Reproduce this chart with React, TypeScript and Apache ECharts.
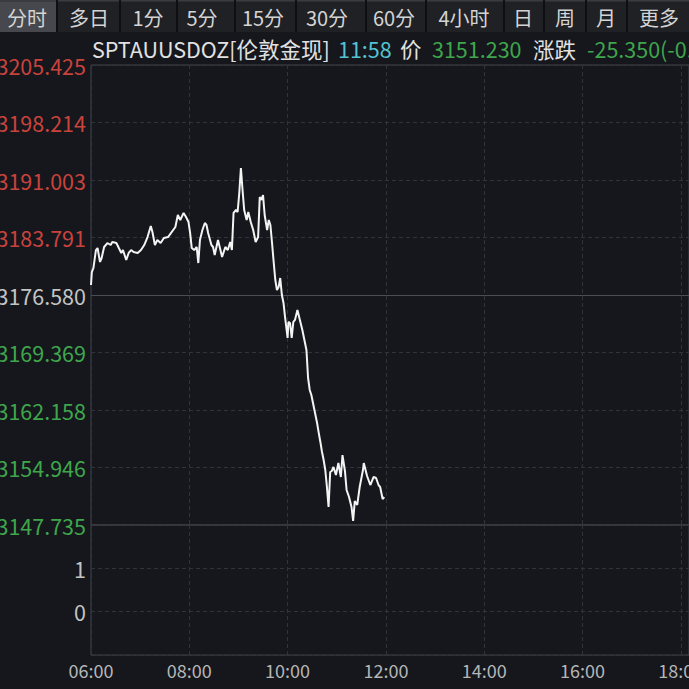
import React, { useEffect, useRef } from "react";
import * as echarts from "echarts";

// ---------- data ----------
const TABS = ["分时", "多日", "1分", "5分", "15分", "30分", "60分", "4小时", "日", "周", "月", "更多"];
const SYMBOL = "SPTAUUSDOZ[伦敦金现]";
const LAST_TIME = "11:58";
const PRICE_LABEL = "价";
const LAST_PRICE = "3151.230";
const CHANGE_LABEL = "涨跌";
const CHANGE = "-25.350(-0.80%)";
const PREV_CLOSE = 3176.58;

const PRICE_TICKS = ["3147.735", "3154.946", "3162.158", "3169.369", "3176.580", "3183.791", "3191.003", "3198.214", "3205.425"];
const VOLUME_TICKS = ["0", "1"];
const TIME_TICKS = ["06:00", "08:00", "10:00", "12:00", "14:00", "16:00", "18:00"];
const AXIS_END = "18:10"; // visible right edge of the time axis

const TIMES = [
  "06:00", "06:01", "06:03", "06:06", "06:08", "06:11", "06:13", "06:16", "06:20", "06:24",
  "06:26", "06:31", "06:34", "06:37", "06:39", "06:43", "06:46", "06:49", "06:52", "06:57",
  "07:01", "07:05", "07:09", "07:13", "07:15", "07:18", "07:21", "07:25", "07:29", "07:34",
  "07:36", "07:43", "07:46", "07:49", "07:53", "07:56", "07:59", "08:01", "08:03", "08:06",
  "08:09", "08:11", "08:13", "08:16", "08:19", "08:21", "08:23", "08:27", "08:29", "08:31",
  "08:35", "08:38", "08:40", "08:44", "08:47", "08:50", "08:52", "08:54", "08:57", "08:59",
  "09:01", "09:03", "09:05", "09:07", "09:10", "09:12", "09:15", "09:18", "09:21", "09:24",
  "09:26", "09:28", "09:30", "09:32", "09:35", "09:37", "09:39", "09:41", "09:43", "09:45",
  "09:47", "09:49", "09:51", "09:53", "09:55", "09:57", "10:00", "10:01", "10:03", "10:05",
  "10:07", "10:09", "10:12", "10:15", "10:18", "10:21", "10:23", "10:25", "10:27", "10:29",
  "10:31", "10:33", "10:36", "10:38", "10:40", "10:42", "10:44", "10:46", "10:48", "10:50",
  "10:52", "10:54", "10:56", "10:59", "11:02", "11:05", "11:07", "11:10", "11:12", "11:15",
  "11:18", "11:20", "11:22", "11:25", "11:28", "11:32", "11:33", "11:37", "11:41", "11:45",
  "11:48", "11:51", "11:53", "11:56", "11:58",
];

const PRICES = [
  3177.83, 3179.46, 3179.97, 3182.22, 3182.47, 3180.72, 3181.22, 3182.60, 3183.10, 3182.85,
  3183.23, 3183.10, 3182.47, 3181.85, 3182.22, 3180.97, 3181.85, 3182.22, 3181.97, 3181.85,
  3182.22, 3182.85, 3183.85, 3185.23, 3184.48, 3182.85, 3183.48, 3183.10, 3183.73, 3183.85,
  3184.11, 3185.11, 3186.61, 3185.99, 3186.87, 3186.36, 3185.74, 3184.36, 3182.47, 3182.22,
  3182.60, 3180.59, 3183.48, 3184.73, 3185.61, 3185.36, 3184.36, 3182.85, 3182.60, 3181.60,
  3183.48, 3182.22, 3181.35, 3182.60, 3182.22, 3183.23, 3182.22, 3186.87, 3187.24, 3186.99,
  3189.37, 3192.51, 3189.75, 3187.24, 3185.99, 3186.99, 3185.74, 3184.73, 3183.23, 3183.85,
  3188.87, 3188.50, 3189.12, 3186.61, 3184.73, 3185.99, 3185.36, 3183.10, 3180.72, 3178.46,
  3177.21, 3177.58, 3178.71, 3176.58, 3175.58, 3173.70, 3171.19, 3173.20, 3173.07, 3171.19,
  3173.20, 3173.45, 3174.70, 3173.45, 3172.19, 3170.69, 3169.68, 3166.17, 3164.67, 3164.04,
  3163.04, 3162.03, 3160.53, 3159.28, 3158.15, 3156.89, 3155.89, 3154.63, 3152.50, 3150.00,
  3154.38, 3154.51, 3155.01, 3154.01, 3155.51, 3153.76, 3156.51, 3154.51, 3152.13, 3151.25,
  3150.00, 3148.24, 3150.75, 3150.25, 3152.50, 3154.63, 3155.51, 3153.88, 3152.75, 3153.76,
  3153.63, 3152.75, 3152.50, 3151.00, 3151.23,
];

// ---------- layout / style ----------
const FONT = "'Noto Sans CJK SC', 'Noto Sans', sans-serif";
const BG = "#15171c";
const TAB_BG = "#1f2125";
const TAB_ACTIVE_BG = "#46484d";
const TAB_TEXT = "#d4d4d4";
const RED = "#c9433d";
const GREEN = "#3fa64c";
const NEUTRAL = "#c4c4c4";
const CYAN = "#53c3d3";
const TAB_CENTERS = [27, 89, 148, 202, 263, 327, 394, 464, 523, 565, 606, 659];
const TAB_SEPARATORS = [57, 120, 177, 235, 296, 366, 426, 504, 544, 586, 627];

const toMinutes = (s: string) => {
  const [h, m] = s.split(":").map(Number);
  return h * 60 + m;
};
const fmtTime = (v: number) => {
  const h = Math.floor(v / 60);
  const m = Math.round(v % 60);
  return `${String(h).padStart(2, "0")}:${String(m).padStart(2, "0")}`;
};

export default function App() {
  const ref = useRef<HTMLDivElement>(null);

  useEffect(() => {
    if (!ref.current) return;
    const chart = echarts.init(ref.current, undefined, { renderer: "svg" });

    const pMin = parseFloat(PRICE_TICKS[0]);
    const pMax = parseFloat(PRICE_TICKS[PRICE_TICKS.length - 1]);
    const pStep = (pMax - pMin) / (PRICE_TICKS.length - 1);
    const tMin = toMinutes(TIME_TICKS[0]);
    const tStep = toMinutes(TIME_TICKS[1]) - tMin;
    const tMax = toMinutes(AXIS_END);

    const lineData = TIMES.map((t, i) => [toMinutes(t), PRICES[i]]);
    const priceIdx = (v: number) => Math.round((Number(v) - pMin) / pStep);

    const splitStyle = { color: "#30333a", type: [4, 3] as any, width: 1 };
    const titleFont = `21.5px ${FONT}`;

    const graphics: any[] = [
      { type: "rect", shape: { x: 0, y: 0, width: 689, height: 32 }, style: { fill: TAB_BG }, silent: true },
      { type: "rect", shape: { x: 0, y: 0, width: 689, height: 1.5 }, style: { fill: "#3a3c40" }, silent: true },
      { type: "rect", shape: { x: 0, y: 1.5, width: TAB_SEPARATORS[0], height: 30.5 }, style: { fill: TAB_ACTIVE_BG }, silent: true },
      ...TAB_SEPARATORS.map((x) => ({
        type: "line",
        shape: { x1: x, y1: 0, x2: x, y2: 32 },
        style: { stroke: "#0e0f12", lineWidth: 2 },
        silent: true,
      })),
      ...TABS.map((t, i) => ({
        type: "text",
        x: TAB_CENTERS[i],
        y: 17,
        style: { text: t, fill: TAB_TEXT, font: `20px ${FONT}`, align: "center", verticalAlign: "middle" },
        silent: true,
      })),
      { type: "text", x: 92, y: 48, style: { text: SYMBOL, fill: "#e2e2e2", font: titleFont, verticalAlign: "middle" }, silent: true },
      { type: "text", x: 338, y: 48, style: { text: LAST_TIME, fill: CYAN, font: titleFont, verticalAlign: "middle" }, silent: true },
      { type: "text", x: 400, y: 48, style: { text: PRICE_LABEL, fill: "#e2e2e2", font: titleFont, verticalAlign: "middle" }, silent: true },
      { type: "text", x: 432, y: 48, style: { text: LAST_PRICE, fill: GREEN, font: titleFont, verticalAlign: "middle" }, silent: true },
      { type: "text", x: 533, y: 48, style: { text: CHANGE_LABEL, fill: "#e2e2e2", font: titleFont, verticalAlign: "middle" }, silent: true },
      { type: "text", x: 587, y: 48, style: { text: CHANGE, fill: GREEN, font: titleFont, verticalAlign: "middle" }, silent: true },
    ];

    const xAxisCommon = {
      type: "value",
      min: tMin,
      max: tMax,
      interval: tStep,
      axisLine: { show: false },
      axisTick: { show: false },
      splitLine: { show: true, lineStyle: splitStyle },
    };

    chart.setOption({
      animation: false,
      backgroundColor: BG,
      textStyle: { fontFamily: FONT },
      graphic: graphics,
      grid: [
        { left: 91, right: 0, top: 65, height: 460, outerBoundsMode: "none", containLabel: false, show: true, borderColor: "#42454c", borderWidth: 1, backgroundColor: "transparent" },
        { left: 91, right: 0, top: 525, height: 130, outerBoundsMode: "none", containLabel: false, show: true, borderColor: "#42454c", borderWidth: 1, backgroundColor: "transparent" },
      ],
      xAxis: [
        { ...xAxisCommon, gridIndex: 0, axisLabel: { show: false } },
        {
          ...xAxisCommon,
          gridIndex: 1,
          axisLabel: {
            show: true,
            margin: 6,
            fontSize: 18,
            fontFamily: FONT,
            color: "#b6b6b6",
            showMaxLabel: false,
            formatter: (v: number) => (TIME_TICKS.includes(fmtTime(v)) ? fmtTime(v) : ""),
          },
        },
      ],
      yAxis: [
        {
          gridIndex: 0,
          type: "value",
          min: pMin,
          max: pMax,
          interval: pStep,
          axisLine: { show: false },
          axisTick: { show: false },
          splitLine: { show: true, lineStyle: splitStyle },
          axisLabel: {
            margin: 5,
            fontSize: 21.5,
            fontFamily: FONT,
            formatter: (v: number) => PRICE_TICKS[priceIdx(v)] ?? "",
            color: (v: any) => {
              const n = Number(v);
              if (n > PREV_CLOSE + 0.01) return RED;
              if (n < PREV_CLOSE - 0.01) return GREEN;
              return NEUTRAL;
            },
          },
        },
        {
          gridIndex: 1,
          type: "value",
          min: -1,
          max: 2,
          interval: 1,
          axisLine: { show: false },
          axisTick: { show: false },
          splitLine: { show: true, lineStyle: splitStyle },
          axisLabel: {
            margin: 5,
            fontSize: 21.5,
            fontFamily: FONT,
            color: NEUTRAL,
            formatter: (v: number) => {
              const s = String(Math.round(Number(v)));
              return VOLUME_TICKS.includes(s) ? s : "";
            },
          },
        },
      ],
      series: [
        {
          type: "line",
          xAxisIndex: 0,
          yAxisIndex: 0,
          data: lineData,
          showSymbol: false,
          symbol: "none",
          lineStyle: { color: "#f4f4f4", width: 2 },
          z: 5,
          markLine: {
            silent: true,
            symbol: "none",
            label: { show: false },
            lineStyle: { color: "#4a4d55", type: "solid", width: 1 },
            data: [{ yAxis: PREV_CLOSE }],
          },
        },
        {
          type: "bar",
          xAxisIndex: 1,
          yAxisIndex: 1,
          data: [],
        },
      ],
    });

    return () => chart.dispose();
  }, []);

  return (
    <div
      ref={ref}
      style={{ position: "absolute", left: 0, top: 0, width: 689, height: 689, overflow: "hidden" }}
    />
  );
}
